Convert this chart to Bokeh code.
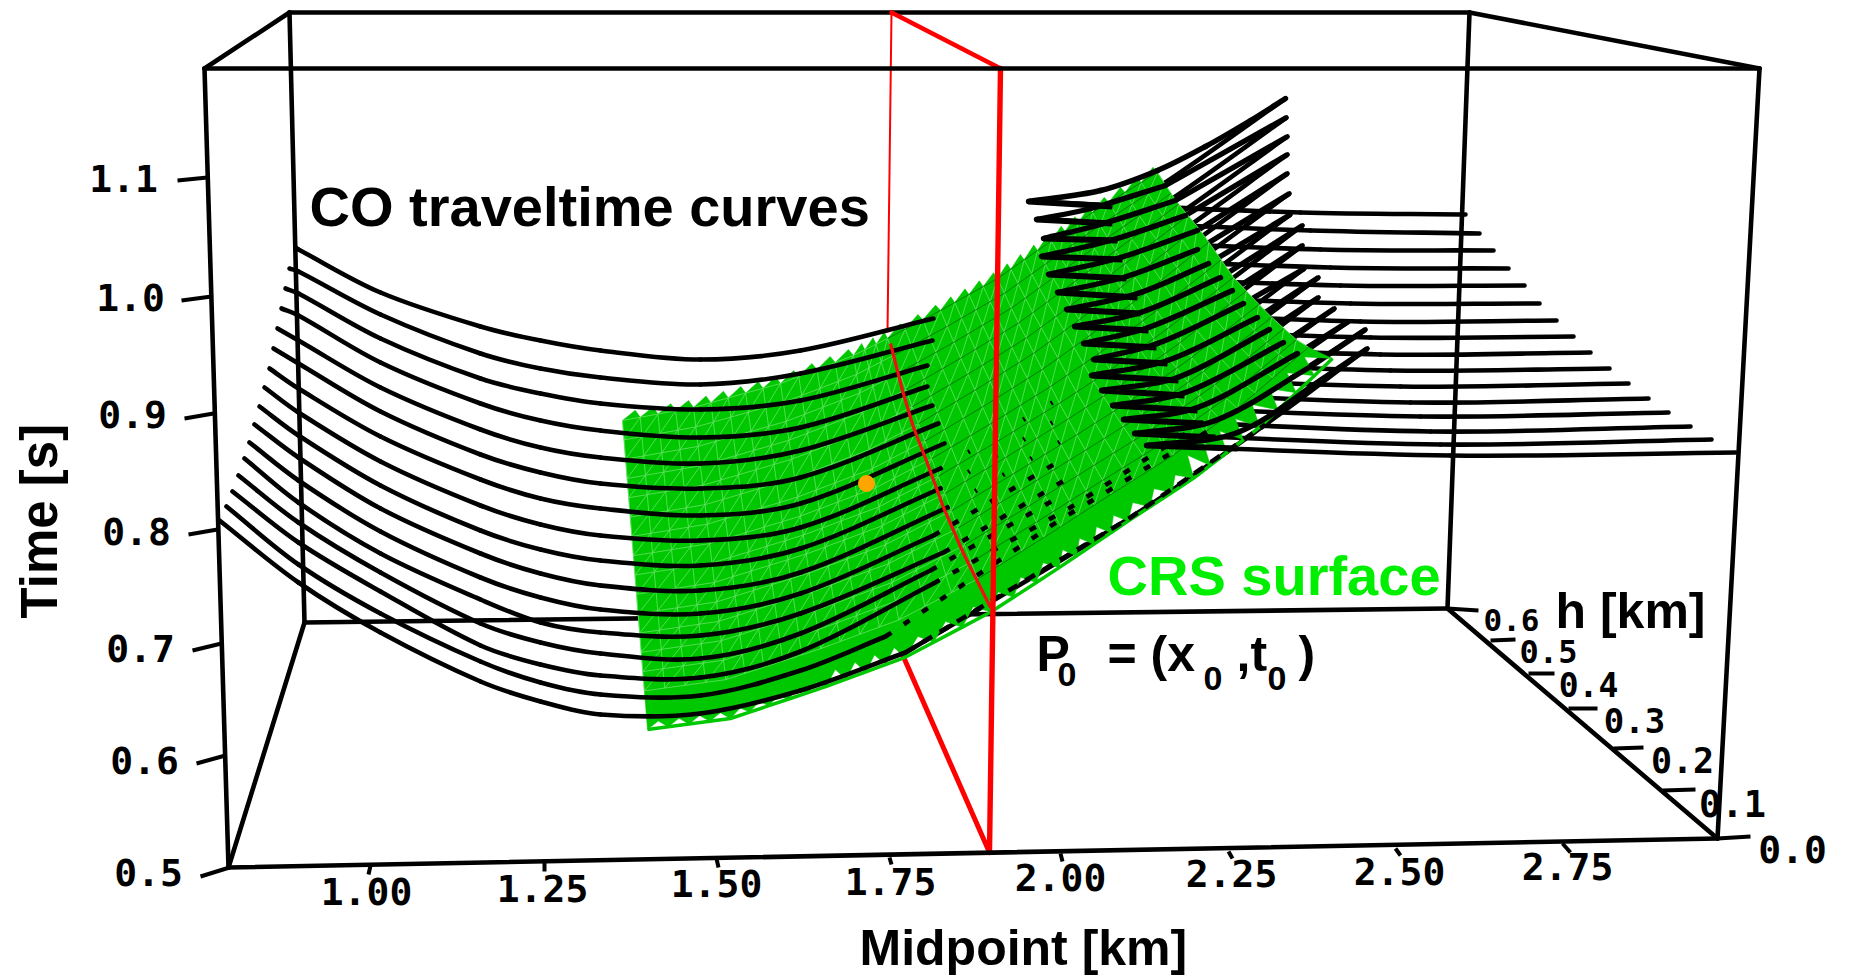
import numpy as np
from bokeh.plotting import figure
from bokeh.models import Range1d
from bokeh.core.properties import value
from bokeh.embed import file_html
from bokeh.resources import INLINE

# ---- all positions are projected page pixels of the flattened 3D view ----
# box corners
BOX_A = (228, 867); BOX_B = (1717, 838); BOX_C = (204, 68); BOX_D = (1759, 68)
BOX_E = (304, 622); BOX_F = (1447, 608); BOX_G = (289, 12); BOX_H = (1469, 12)

# axis ticks (outer end, inner end) and labels
TIME_LABELS = ["1.1", "1.0", "0.9", "0.8", "0.7", "0.6", "0.5"]
TIME_TICK_X0 = [177, 181, 184, 188, 192, 196, 200]
TIME_TICK_Y0 = [180, 300, 418, 534, 650, 763, 876]
TIME_TICK_X1 = [207, 211, 213, 217, 221, 225, 229]
TIME_TICK_Y1 = [177, 296, 413, 529, 643, 755, 867]
TIME_LABEL_X = [123, 130, 132, 136, 140, 144, 148]
TIME_LABEL_Y = [182, 301, 418, 535, 652, 764, 876]

MID_LABELS = ["1.00", "1.25", "1.50", "1.75", "2.00", "2.25", "2.50", "2.75"]
MID_TICK_X0 = [370, 544, 716, 889, 1060, 1228, 1395, 1562]
MID_TICK_Y0 = [865, 861, 858, 857, 853, 851, 848, 843]
MID_TICK_X1 = [368, 544, 718, 891, 1062, 1232, 1400, 1570]
MID_TICK_Y1 = [874, 871, 867, 864, 861, 858, 855, 852]
MID_LABEL_X = [366, 542, 716, 890, 1060, 1231, 1399, 1567]
MID_LABEL_Y = [895, 892, 887, 885, 881, 877, 875, 870]

H_LABELS = ["0.0", "0.1", "0.2", "0.3", "0.4", "0.5", "0.6"]
H_TICK_X0 = [1717, 1662, 1613, 1568, 1528, 1490, 1447]
H_TICK_Y0 = [838, 790, 748, 708, 673, 640, 608]
H_TICK_X1 = [1750, 1695, 1643, 1597, 1554, 1515, 1478]
H_TICK_Y1 = [836, 789, 747, 708, 673, 639, 610]
H_LABEL_X = [1792, 1732, 1682, 1634, 1588, 1548, 1511]
H_LABEL_Y = [853, 807, 763, 723, 687, 654, 623]
H_LABEL_SIZE = [38, 37, 35, 34, 33, 32, 31]

# CO traveltime curves, one value per curve (far offset first)
CO_LEFT_X = [295, 289, 285, 281, 277, 273, 269, 264, 259, 254, 249, 244, 238, 232, 226, 219]
CO_LEFT_Y = [247, 268, 288, 308, 328, 348, 368, 387, 406, 424, 442, 458, 475, 491, 506, 520]
CO_COLUMNS_X = [298, 380, 480, 540, 600, 700, 800]
CO_Y_298 = [249, 271, 293, 315, 340, 363, 388, 412, 435, 457, 480, 502, 522, 542, 564, 582]
CO_Y_380 = [292, 314, 338, 362, 387, 411, 436, 461, 485, 508, 531, 553, 572, 591, 613, 632]
CO_Y_480 = [326, 353, 378, 403, 429, 454, 479, 505, 530, 553, 577, 599, 623, 645, 661, 681]
CO_Y_540 = [340, 368, 393, 420, 447, 472, 498, 524, 549, 573, 597, 622, 642, 664, 682, 701]
CO_Y_600 = [350, 377, 403, 430, 457, 483, 508, 535, 560, 585, 609, 632, 653, 675, 694, 714]
CO_Y_700 = [359, 384, 409, 437, 463, 488, 515, 540, 565, 590, 613, 635, 658, 677, 695, 713]
CO_Y_800 = [350, 373, 400, 427, 450, 477, 503, 527, 548, 572, 593, 613, 633, 651, 670, 690]
CO_SOLID_END_X = [933, 932, 927, 927, 932, 938, 944, 940, 940, 947, 933, 943, 930, 933, 885, 905]
CO_SOLID_END_Y = [318, 340, 365, 386, 405, 423, 443, 468, 488, 507, 535, 552, 570, 583, 636, 652]
CO_HID1_X = [1049, 1049, 1046, 1046, 1049, 1054, 1058, 1059, 1059, 1065, 1060, 1067, 1063, 1070, 1060, 1130]
CO_HID1_Y = [255, 276, 299, 319, 338, 357, 377, 398, 418, 438, 460, 478, 494, 507, 519, 517]
CO_HID2_X = [1165, 1166, 1165, 1165, 1166, 1170, 1172, 1179, 1179, 1183, 1187, 1190, 1197, 1207, 1210, 1265]
CO_HID2_Y = [182, 202, 223, 242, 261, 280, 301, 317, 337, 358, 374, 393, 406, 419, 429, 424]
CO_RIGHT_X = [1285, 1286, 1287, 1287, 1287, 1289, 1290, 1302, 1302, 1304, 1318, 1318, 1334, 1348, 1365, 1367]
CO_RIGHT_Y = [98, 117, 136, 154, 173, 193, 214, 225, 245, 268, 277, 297, 308, 321, 329, 348]

# the turning points at the far end, and the two arms that leave them
VERTEX_X = [1028, 1036, 1043, 1041, 1048, 1057, 1066, 1074, 1083, 1093, 1091, 1101, 1112, 1123, 1134, 1146]
VERTEX_Y = [201, 219, 238, 256, 274, 292, 309, 326, 343, 359, 375, 390, 405, 419, 433, 445]
ARM_STUB_X = [1112, 1112, 1117, 1122, 1126, 1137, 1140, 1148, 1156, 1167, 1178, 1184, 1197, 1202, 1215, 1237]
ARM_STUB_Y = [206, 223, 240, 259, 278, 297, 313, 330, 347, 363, 380, 395, 410, 423, 437, 448]
ARM_MID_X = [1300, 1310, 1320, 1330, 1340, 1350, 1360, 1370, 1380, 1390, 1400, 1410, 1420, 1430, 1440, 1450]
ARM_MID_Y = [212, 230, 249, 267, 285, 303, 321, 337, 354, 370, 386, 402, 416, 431, 444, 455]
ARM_END_X = [1465, 1479, 1493, 1508, 1524, 1539, 1556, 1573, 1590, 1609, 1628, 1648, 1668, 1690, 1711, 1735]
ARM_END_Y = [214, 233, 250, 268, 285, 303, 320, 336, 352, 368, 383, 398, 412, 426, 439, 452]
ARC_A_X = [1157, 1090, 1100, 1110, 1120, 1126, 1137, 1140, 1148, 1157, 1167, 1177, 1185, 1197, 1215, 1237]
ARC_A_Y = [170, 208, 224, 240, 257, 276, 293, 312, 327, 343, 360, 377, 392, 407, 420, 432]
ARC_B_X = [1250, 1165, 1175, 1185, 1197, 1197, 1208, 1220, 1232, 1243, 1257, 1269, 1283, 1297, 1312, 1327]
ARC_B_Y = [120, 185, 200, 215, 230, 249, 263, 277, 290, 303, 317, 329, 342, 353, 365, 375]
TOP_ARC_X = [1028, 1100, 1157, 1205, 1250, 1285]
TOP_ARC_Y = [201, 190, 170, 146, 120, 98]

# CRS surface outline
CRS_TOP_X = [622, 693, 780, 853, 887, 940, 997, 1037, 1092, 1157]
CRS_TOP_Y = [420, 407, 383, 355, 338, 310, 278, 250, 212, 172]
CRS_BOT_X = [647, 730, 826, 905, 991, 1060, 1130, 1197, 1265, 1340]
CRS_BOT_Y = [729, 718, 686, 657, 612, 568, 522, 480, 430, 363]
CRS_RIGHT_X = [1157, 1175, 1200, 1233, 1267, 1300, 1332]
CRS_RIGHT_Y = [172, 200, 230, 277, 313, 343, 358]

# red section through P0
RED_BACK_TOP = (891, 12); RED_FRONT_TOP = (1000, 68); RED_FRONT_BOT = (989, 852); RED_BACK_BOT = (887, 620)
RED_THIN_X = [891, 887]; RED_THIN_Y = [12, 332]
RED_CURVE_X = [890, 902, 913, 927, 943, 963, 990]
RED_CURVE_Y = [343, 390, 427, 463, 507, 553, 607]
P0_X = [866]; P0_Y = [483]

BLACK = "#000000"; RED = "#ff0000"; GREEN = "#00c800"; LIME = "#00ee00"; ORANGE = "#ffa500"
HERSHEY = value("DejaVu Sans Mono"); SANS = value("Liberation Sans")
N = len(CO_LEFT_X)

p = figure(width=1850, height=977, x_range=Range1d(0, 1850), y_range=Range1d(977, 0),
           output_backend="svg", toolbar_location=None, min_border=0,
           x_axis_type=None, y_axis_type=None, outline_line_color=None,
           background_fill_color="white", border_fill_color="white")
p.grid.visible = False


def seg(a, b, w=4.6, c=BLACK):
    p.line([a[0], b[0]], [a[1], b[1]], line_color=c, line_width=w, line_cap="round")


def smooth(paths, w=4, c=BLACK, dash="solid"):
    """Draw each read polyline as cubic pieces that pass through its read points."""
    X0, Y0, X1, Y1, C0X, C0Y, C1X, C1Y = [], [], [], [], [], [], [], []
    for xs, ys in paths:
        P = np.column_stack([xs, ys]).astype(float)
        T = np.zeros_like(P)
        T[1:-1] = P[2:] - P[:-2]
        T[0] = P[1] - P[0]
        T[-1] = P[-1] - P[-2]
        T /= np.linalg.norm(T, axis=1, keepdims=True)
        for a in range(len(P) - 1):
            L = np.linalg.norm(P[a + 1] - P[a]) / 3
            c0, c1 = P[a] + T[a] * L, P[a + 1] - T[a + 1] * L
            X0.append(P[a, 0]); Y0.append(P[a, 1]); X1.append(P[a + 1, 0]); Y1.append(P[a + 1, 1])
            C0X.append(c0[0]); C0Y.append(c0[1]); C1X.append(c1[0]); C1Y.append(c1[1])
    p.bezier(X0, Y0, X1, Y1, C0X, C0Y, C1X, C1Y, line_color=c, line_width=w, line_dash=dash,
             line_cap="round" if dash == "solid" else "butt")


# back of the box
for a, b in [(BOX_G, BOX_H), (BOX_G, BOX_E), (BOX_H, BOX_F), (BOX_E, BOX_F), (BOX_A, BOX_E), (BOX_B, BOX_F),
             (BOX_C, BOX_G), (BOX_D, BOX_H)]:
    seg(a, b)

# red, behind the surface
seg(RED_FRONT_BOT, RED_BACK_BOT, 5, RED)
p.line(RED_THIN_X, RED_THIN_Y, line_color=RED, line_width=2)

# everything that the surface hides
smooth([([CO_SOLID_END_X[i], CO_HID1_X[i], CO_HID2_X[i], CO_RIGHT_X[i]],
         [CO_SOLID_END_Y[i], CO_HID1_Y[i], CO_HID2_Y[i], CO_RIGHT_Y[i]]) for i in range(N)], 4.6)
smooth([([VERTEX_X[i], ARM_MID_X[i], ARM_END_X[i]],
         [VERTEX_Y[i], ARM_MID_Y[i], ARM_END_Y[i]]) for i in range(N)], 4.6)
p.multi_line([[ARC_B_X[i], CO_RIGHT_X[i]] for i in range(1, N)],
             [[ARC_B_Y[i], CO_RIGHT_Y[i]] for i in range(1, N)], line_color=BLACK, line_width=5.4)

# CRS surface as a triangulated sheet
SEG_CELLS = [4, 5, 4, 3, 3, 4, 3, 4, 4]
u_idx = np.concatenate([np.linspace(k, k + 1, c, endpoint=False) for k, c in enumerate(SEG_CELLS)] + [[9.0]])
NV = 16
v = np.linspace(0, 1, NV + 1)
idx = np.arange(10)
tx, ty = np.interp(u_idx, idx, CRS_TOP_X), np.interp(u_idx, idx, CRS_TOP_Y)
bx, by = np.interp(u_idx, idx, CRS_BOT_X), np.interp(u_idx, idx, CRS_BOT_Y)
rv = np.linspace(0, 6, NV + 1)
rx, ry = np.interp(rv, np.arange(7), CRS_RIGHT_X), np.interp(rv, np.arange(7), CRS_RIGHT_Y)
w = (u_idx / 9.0) ** 3
gx = np.outer(tx, 1 - v) + np.outer(bx, v) + np.outer(w, rx - ((1 - v) * tx[-1] + v * bx[-1]))
gy = np.outer(ty, 1 - v) + np.outer(by, v) + np.outer(w, ry - ((1 - v) * ty[-1] + v * by[-1]))
NU = len(u_idx)

ox, oy = [], []
for j in range(NU - 1):            # saw teeth along the upper edge
    ox += [gx[j, 0], gx[j, 0] + 0.72 * (gx[j + 1, 0] - gx[j, 0])]
    oy += [gy[j, 0], gy[j, 0] + 0.72 * (gy[j + 1, 0] - gy[j, 0]) - 8]
ox += list(gx[-1, :]); oy += list(gy[-1, :])
for j in range(NU - 1, 0, -1):     # notches along the lower edge
    ox.append(gx[j, -1]); oy.append(gy[j, -1])
    dx, dy = gx[j, -3] - gx[j, -1], gy[j, -3] - gy[j, -1]
    d = np.hypot(dx, dy)
    depth = 7 if gx[j, -1] < 830 else (13 if gx[j, -1] < 1200 else 22)
    ox.append(gx[j, -1] + 0.45 * (gx[j - 1, -1] - gx[j, -1]) + dx / d * depth)
    oy.append(gy[j, -1] + 0.45 * (gy[j - 1, -1] - gy[j, -1]) + dy / d * depth)
ox += list(gx[0, ::-1]); oy += list(gy[0, ::-1])
p.patch(ox, oy, fill_color=GREEN, line_color=GREEN, line_width=0.5)

SPLIT = sum(SEG_CELLS[:4])
light_x, light_y, dark_x, dark_y = [], [], [], []
for j in range(NU):
    light_x.append(list(gx[j, :-2])); light_y.append(list(gy[j, :-2]))
for k in range(NV - 1):
    light_x.append(list(gx[:SPLIT + 1, k])); light_y.append(list(gy[:SPLIT + 1, k]))
    dark_x.append(list(gx[SPLIT:, k])); dark_y.append(list(gy[SPLIT:, k]))
for j in range(NU - 1):
    for k in range(NV - 2):
        light_x.append([gx[j, k + 1], gx[j + 1, k]]); light_y.append([gy[j, k + 1], gy[j + 1, k]])
p.multi_line(light_x, light_y, line_color="#66e266", line_width=0.8)
p.multi_line(dark_x, dark_y, line_color="#06660a", line_width=0.8)

# green rim along the lower edge
p.line(list(gx[:, -1]), list(gy[:, -1]), line_color=GREEN, line_width=3.5)

# curves lying on top of the surface
cols = [CO_Y_298, CO_Y_380, CO_Y_480, CO_Y_540, CO_Y_600, CO_Y_700, CO_Y_800]
smooth([([CO_LEFT_X[i]] + CO_COLUMNS_X + [CO_SOLID_END_X[i]],
         [CO_LEFT_Y[i]] + [c[i] for c in cols] + [CO_SOLID_END_Y[i]]) for i in range(N)], 4.6)
# stretches where curves and surface fight
for i in range(7, N):
    dash = "2 30" if i < 10 else ("7 15" if i < 15 else "11 9")
    ex = [CO_SOLID_END_X[i], CO_HID1_X[i]] + ([CO_HID2_X[i]] if i >= 13 else [])
    ey = [CO_SOLID_END_Y[i], CO_HID1_Y[i]] + ([CO_HID2_Y[i]] if i >= 13 else [])
    p.line(ex, ey, line_color=BLACK, line_width=4.6, line_dash=dash)
p.multi_line([[VERTEX_X[i], ARM_STUB_X[i]] for i in range(N)],
             [[VERTEX_Y[i], ARM_STUB_Y[i]] for i in range(N)], line_color=BLACK, line_width=5.8)
arcs = [(TOP_ARC_X, TOP_ARC_Y)]
arcs += [([VERTEX_X[i], ARC_A_X[i], ARC_B_X[i]], [VERTEX_Y[i], ARC_A_Y[i], ARC_B_Y[i]]) for i in range(1, N)]
smooth(arcs, 5.4)

# red plane and the point
p.line(RED_CURVE_X, RED_CURVE_Y, line_color="#ee1010", line_width=3.2)
seg(RED_BACK_TOP, RED_FRONT_TOP, 4.6, RED)
seg(RED_FRONT_TOP, RED_FRONT_BOT, 5.4, RED)
p.scatter(P0_X, P0_Y, size=16, fill_color=ORANGE, line_color=ORANGE)

# front of the box
for a, b in [(BOX_C, BOX_D), (BOX_C, BOX_A), (BOX_D, BOX_B), (BOX_A, BOX_B)]:
    seg(a, b)

# ticks
for X0, Y0, X1, Y1 in [(TIME_TICK_X0, TIME_TICK_Y0, TIME_TICK_X1, TIME_TICK_Y1),
                       (MID_TICK_X0, MID_TICK_Y0, MID_TICK_X1, MID_TICK_Y1),
                       (H_TICK_X0, H_TICK_Y0, H_TICK_X1, H_TICK_Y1)]:
    p.segment(X0, Y0, X1, Y1, line_color=BLACK, line_width=4)


BASE_SHIFT = 0.36   # the svg text sits this fraction of its size below the asked baseline


def label(x, y, t, size, font=SANS, style="bold", color=BLACK, align="left", base="alphabetic", angle=0.0):
    shift = BASE_SHIFT * size if base == "alphabetic" else 0.1 * size
    if angle:
        x = x - shift
    else:
        y = y - shift
    p.text([x], [y], text=[t], text_font=font, text_font_size=f"{size}px", text_font_style=style,
           text_color=color, text_align=align, text_baseline=base, angle=angle)


for t, x, y in zip(TIME_LABELS, TIME_LABEL_X, TIME_LABEL_Y):
    label(x, y, t, 38, HERSHEY, "bold", align="center", base="middle")
for t, x, y in zip(MID_LABELS, MID_LABEL_X, MID_LABEL_Y):
    label(x, y, t, 38, HERSHEY, "bold", align="center", base="middle")
for t, x, y, s in zip(H_LABELS, H_LABEL_X, H_LABEL_Y, H_LABEL_SIZE):
    label(x, y, t, s, HERSHEY, "bold", align="center", base="middle")

label(309, 226, "CO traveltime curves", 56)
label(1107, 595, "CRS surface", 56, color=LIME)
label(859, 965, "Midpoint [km]", 50)
label(1555, 628, "h [km]", 50)
label(57, 618, "Time [s]", 51, angle=np.pi / 2)
label(1036, 671, "P", 50)
label(1057, 686, "0", 34)
label(1107, 671, "= (x", 50)
label(1203, 690, "0", 34)
label(1236, 671, ",t", 50)
label(1267, 690, "0", 34)
label(1298, 671, ")", 50)

open("out.html", "w").write(file_html(p, INLINE))
